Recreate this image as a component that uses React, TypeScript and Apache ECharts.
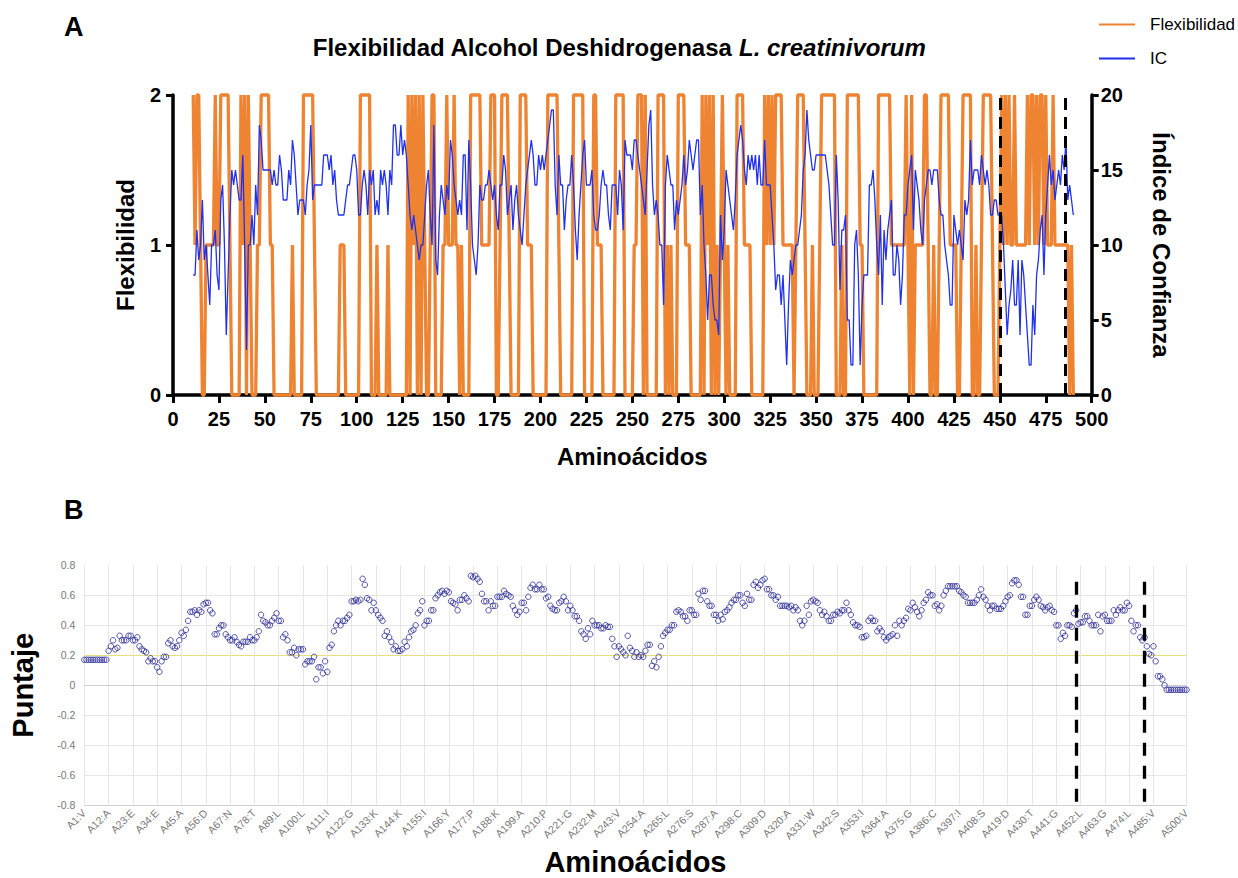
import React, { useEffect, useRef } from "react";
import * as echarts from "echarts";

const FONT = "'Liberation Sans', Arial, Helvetica, sans-serif";

// ---------- Panel A: Flexibilidad / IC (residues 11..490) ----------
const firstResidueA = 11;

const flexibilidad = [
  2,1,2,2,1,0,0,1,1,1,
  1,1,2,1,1,2,2,2,2,2,
  1,0,0,0,0,0,2,1,2,0,
  2,1,0,0,0,1,1,2,2,2,
  2,2,1,1,0,0,0,0,0,0,
  0,0,0,0,1,0,0,0,0,0,
  2,2,2,2,2,2,1,0,0,0,
  0,0,0,0,0,0,0,0,0,0,
  1,1,1,0,0,0,0,0,0,0,
  0,2,2,2,2,2,2,0,0,0,
  1,0,0,0,0,0,1,0,0,0,
  0,0,0,0,0,0,0,2,0,2,
  1,2,0,2,0,2,1,0,0,1,
  2,2,0,0,0,0,1,1,2,1,
  1,1,2,1,1,0,1,0,0,0,
  0,2,2,2,2,2,2,1,1,1,
  1,1,2,2,2,0,0,1,2,2,
  2,2,1,0,0,0,0,0,2,2,
  2,2,1,1,1,0,0,0,0,0,
  0,0,0,2,2,2,2,2,2,1,
  0,0,0,0,0,0,0,2,2,2,
  2,2,2,0,0,0,0,0,2,2,
  1,1,1,0,0,0,0,0,0,0,
  2,2,2,2,2,0,0,0,0,0,
  1,1,2,2,2,0,2,0,0,0,
  0,0,0,2,2,2,2,0,1,0,
  1,0,0,0,2,2,2,2,1,1,
  1,0,0,0,0,0,0,2,0,2,
  1,2,0,2,0,1,0,1,2,1,
  0,1,0,0,0,0,2,2,2,2,
  1,1,1,1,0,0,0,0,0,0,
  0,2,1,2,1,2,1,2,2,2,
  2,1,1,1,1,1,1,0,1,2,
  2,2,2,1,0,0,0,1,0,0,
  0,1,2,2,2,2,2,2,2,2,
  0,0,0,1,0,0,2,2,2,2,
  2,2,2,1,1,0,0,0,0,0,
  0,0,0,2,2,2,2,2,2,2,
  1,1,1,1,1,1,1,1,2,1,
  0,2,0,1,1,1,1,1,2,2,
  1,0,0,1,0,0,1,2,2,2,
  2,2,1,1,1,1,0,0,1,2,
  2,2,2,2,0,0,1,0,0,1,
  2,2,2,2,2,1,0,0,0,1,
  2,1,2,1,2,1,1,2,1,1,
  1,1,1,1,2,1,2,2,1,2,
  1,2,2,1,2,1,1,1,2,1,
  1,1,1,1,1,1,1,0,1,0,
];

const indiceConfianza = [
  8,8,11,9,10,13,9,10,8,6,
  10,10,11,8,7,13,14,10,4,8,
  12,15,14,15,14,13,13,16,10,3,
  10,10,12,10,14,12,18,17,15,15,
  15,15,15,14,15,14,14,16,15,13,
  13,13,15,14,17,16,14,12,13,13,
  13,12,14,15,18,13,14,14,14,14,
  14,16,16,16,15,16,14,15,13,12,
  12,12,12,13,14,14,15,16,16,15,
  12,12,14,15,14,12,15,14,15,12,
  13,12,15,14,15,14,12,15,14,18,
  18,16,16,18,16,17,16,14,12,11,
  12,11,10,9,10,10,12,14,15,12,
  10,18,9,8,12,14,13,12,14,13,
  17,16,14,13,12,13,12,16,16,11,
  17,14,10,9,8,10,14,13,13,14,
  14,15,14,13,14,12,11,14,14,16,
  15,12,13,14,11,13,14,12,11,10,
  12,14,15,16,17,16,14,14,16,15,
  16,15,16,17,18,19,19,14,12,16,
  14,14,11,13,14,14,16,14,11,9,
  12,14,16,17,14,14,14,15,12,11,
  11,12,14,15,14,14,12,11,14,14,
  14,12,15,14,11,17,16,16,16,15,
  17,17,16,15,14,13,12,15,18,19,
  14,12,13,12,10,10,6,14,16,15,
  14,14,11,13,12,13,14,16,14,15,
  17,16,15,16,17,17,12,14,10,8,
  5,8,8,6,5,5,4,12,9,11,
  15,14,13,12,11,13,16,17,18,17,
  15,14,16,15,16,15,16,14,16,14,
  14,17,14,14,14,12,10,7,8,8,
  6,8,5,2,6,9,8,9,10,10,
  11,12,15,16,19,17,16,15,15,16,
  16,16,16,16,16,15,14,12,10,10,
  16,13,7,11,11,12,5,5,2,2,
  10,11,8,2,6,8,8,8,14,14,
  15,13,10,8,12,6,11,9,11,12,
  13,8,8,10,9,6,8,12,12,14,
  15,16,11,15,14,13,11,10,13,14,
  15,15,14,15,15,15,13,12,12,10,
  9,8,6,6,12,11,10,11,10,9,
  13,12,13,17,14,15,15,15,14,16,
  15,14,15,14,12,12,13,13,12,12,
  12,10,7,4,6,7,9,6,6,9,
  4,9,8,6,4,2,2,6,4,8,
  9,11,12,8,12,14,16,14,15,13,
  14,15,14,16,15,17,13,14,13,12,
];

const regionLimitsA = [450.5, 485.6];

// ---------- Panel B: Puntaje per residue (A1..A500) ----------
const puntaje = [
  0.17,0.17,0.17,0.17,0.17,0.17,0.17,0.17,0.17,0.17,0.17,
  0.23,0.26,0.30,0.24,0.25,0.33,0.30,0.30,0.30,0.33,
  0.33,0.30,0.30,0.32,0.26,0.24,0.23,0.22,0.16,0.18,
  0.16,0.16,0.12,0.09,0.16,0.19,0.19,0.28,0.30,0.26,
  0.25,0.26,0.30,0.35,0.33,0.37,0.43,0.49,0.49,0.50,
  0.47,0.50,0.49,0.54,0.55,0.55,0.50,0.48,0.34,0.34,
  0.38,0.40,0.40,0.34,0.32,0.30,0.30,0.32,0.29,0.27,
  0.26,0.29,0.29,0.29,0.32,0.30,0.30,0.32,0.36,0.47,
  0.43,0.42,0.40,0.40,0.43,0.45,0.48,0.43,0.43,0.32,
  0.34,0.30,0.22,0.22,0.25,0.20,0.24,0.24,0.24,0.14,
  0.16,0.16,0.16,0.19,0.04,0.12,0.12,0.08,0.16,0.09,
  0.25,0.27,0.36,0.40,0.43,0.40,0.43,0.43,0.45,0.47,
  0.56,0.56,0.57,0.56,0.57,0.71,0.67,0.58,0.57,0.50,
  0.55,0.50,0.47,0.45,0.43,0.33,0.36,0.32,0.29,0.24,
  0.26,0.23,0.23,0.24,0.29,0.26,0.32,0.36,0.37,0.40,
  0.48,0.50,0.56,0.40,0.43,0.43,0.50,0.50,0.58,0.60,
  0.62,0.63,0.61,0.63,0.62,0.56,0.55,0.54,0.50,
  0.57,0.57,0.60,0.58,0.56,0.73,0.72,0.73,0.71,0.69,
  0.61,0.56,0.56,0.50,0.56,0.53,0.53,0.59,0.59,0.59,
  0.63,0.61,0.60,0.59,0.53,0.50,0.47,0.49,0.55,0.55,
  0.50,0.59,0.65,0.67,0.64,0.64,0.67,0.64,0.64,0.58,
  0.59,0.53,0.51,0.50,0.50,0.55,0.56,0.59,0.56,0.50,
  0.53,0.50,0.46,0.46,0.43,0.36,0.34,0.31,0.38,0.34,
  0.43,0.40,0.40,0.40,0.38,0.38,0.40,0.39,0.39,0.31,
  0.26,0.19,0.26,0.24,0.22,0.20,0.33,0.25,0.23,0.19,
  0.22,0.19,0.20,0.19,0.23,0.27,0.27,0.13,0.16,0.12,
  0.19,0.26,0.33,0.35,0.37,0.37,0.40,0.40,0.49,0.50,
  0.49,0.46,0.46,0.43,0.50,0.50,0.47,0.47,0.61,0.57,
  0.63,0.63,0.56,0.53,0.53,0.47,0.47,0.43,0.47,0.44,
  0.49,0.50,0.52,0.55,0.57,0.57,0.60,0.60,0.55,0.53,
  0.61,0.57,0.57,0.67,0.69,0.65,0.67,0.70,0.71,0.64,
  0.64,0.60,0.60,0.57,0.59,0.53,0.53,0.53,0.53,0.52,
  0.53,0.50,0.52,0.50,0.43,0.40,0.43,0.53,0.47,0.56,
  0.57,0.56,0.55,0.50,0.47,0.49,0.46,0.43,0.43,0.47,
  0.47,0.49,
  0.48,0.50,0.50,0.55,0.50,0.47,0.42,0.40,0.40,0.39,
  0.32,0.32,0.33,0.43,0.45,0.43,0.43,0.36,0.38,0.36,
  0.32,0.30,0.32,0.33,0.34,0.40,0.33,0.43,0.40,0.43,
  0.45,0.51,0.50,0.55,0.52,0.49,0.46,0.50,0.55,0.57,
  0.62,0.60,0.60,0.53,0.54,0.50,0.53,0.60,0.63,0.66,
  0.66,0.66,0.66,0.66,0.63,0.62,0.60,0.59,0.55,0.55,
  0.55,0.55,0.57,0.60,0.64,0.59,0.57,0.53,0.50,0.53,
  0.53,0.51,0.51,0.51,0.53,0.56,0.59,0.60,0.68,0.70,
  0.70,0.67,0.59,0.59,0.47,0.47,0.53,0.53,0.57,0.59,
  0.57,0.53,0.52,0.50,0.52,0.53,0.50,0.49,0.40,0.40,
  0.31,0.35,0.33,0.40,0.40,0.39,0.48,0.50,0.41,0.42,
  0.42,0.46,0.46,0.43,0.40,0.40,0.40,0.47,0.36,0.46,
  0.47,0.43,0.43,0.43,0.50,0.47,0.50,0.52,0.50,0.50,
  0.55,0.53,0.43,0.36,0.40,0.40,0.32,0.30,0.32,0.26,
  0.21,0.20,0.26,0.16,0.06,0.06,0.04,0.00,
  -0.03,-0.03,-0.03,-0.03,-0.03,-0.03,-0.03,-0.03,-0.03,-0.03,
];

const labeledResidues: Record<number, string> = {
  1: "V", 12: "A", 23: "E", 34: "E", 45: "A", 56: "D", 67: "N", 78: "T", 89: "L",
  100: "L", 111: "I", 122: "G", 133: "K", 144: "K", 155: "I", 166: "Y", 177: "P",
  188: "K", 199: "A", 210: "P", 221: "G", 232: "M", 243: "V", 254: "A", 265: "L",
  276: "S", 287: "A", 298: "C", 309: "D", 320: "A", 331: "W", 342: "S", 353: "I",
  364: "A", 375: "G", 386: "C", 397: "I", 408: "S", 419: "D", 430: "T", 441: "G",
  452: "L", 463: "G", 474: "L", 485: "V", 500: "V",
};

const regionLimitsB = [450, 481];
const regionTopB = 0.69;

export default function App() {
  const ref = useRef<HTMLDivElement>(null);

  useEffect(() => {
    const chart = echarts.init(ref.current!, null, { renderer: "svg" });

    const categories = puntaje.map((_, i) => {
      const n = i + 1;
      const r = labeledResidues[n];
      return r ? `A${n}:${r}` : `A${n}`;
    });
    const catOf = (n: number) => categories[n - 1];
    const showCat = (i: number) => labeledResidues[i + 1] !== undefined;

    const flexData = flexibilidad.map((v, i) => [firstResidueA + i, v]);
    const icData = indiceConfianza.map((v, i) => [firstResidueA + i, v]);

    const boldAxisLabel = { fontSize: 20, fontWeight: "bold", color: "#000", fontFamily: FONT };
    const boldName = { fontSize: 24, fontWeight: "bold", color: "#000", fontFamily: FONT };
    const thickLine = { show: true, lineStyle: { color: "#000", width: 3.5 } };
    const thickTick = { show: true, length: 8, lineStyle: { color: "#000", width: 3 } };

    const yColorsB = ["#cfcfcf", "#e6e6e6", "#e6e6e6", "#e6e6e6", "#bdbdbd", "#e7e07a", "#e6e6e6", "#e6e6e6", "rgba(0,0,0,0)"];

    chart.setOption({
      animation: false,
      textStyle: { fontFamily: FONT },
      title: {
        text: "{n|Flexibilidad Alcohol Deshidrogenasa }{i|L. creatinivorum}",
        left: "center",
        top: 30,
        textStyle: {
          rich: {
            n: { fontSize: 24, fontWeight: "bold", color: "#000", fontFamily: FONT },
            i: { fontSize: 24, fontWeight: "bold", fontStyle: "italic", color: "#000", fontFamily: FONT },
          },
        },
      },
      legend: {
        data: [
          { name: "Flexibilidad", itemStyle: { opacity: 0 } },
          { name: "IC", itemStyle: { opacity: 0 } },
        ],
        orient: "vertical",
        left: 1093,
        top: 11,
        itemWidth: 36,
        itemHeight: 14,
        itemGap: 17,
        itemStyle: { opacity: 0 },
        textStyle: { fontSize: 17, color: "#000", fontFamily: FONT, padding: [0, 0, 0, 10] },
      },
      graphic: [
        { type: "text", left: 64, top: 13, style: { text: "A", font: `bold 27px ${FONT}`, fill: "#000" } },
        { type: "text", left: 64, top: 496, style: { text: "B", font: `bold 27px ${FONT}`, fill: "#000" } },
      ],
      grid: [
        { left: 173, top: 95, width: 918.7, height: 300 },
        { left: 84.3, top: 565.3, width: 1102.3, height: 240 },
      ],
      xAxis: [
        {
          type: "value",
          gridIndex: 0,
          min: 0,
          max: 500,
          interval: 25,
          axisLine: thickLine,
          axisTick: thickTick,
          axisLabel: { ...boldAxisLabel, margin: 14 },
          splitLine: { show: false },
          name: "Aminoácidos",
          nameLocation: "middle",
          nameGap: 49,
          nameTextStyle: boldName,
        },
        {
          type: "category",
          gridIndex: 1,
          data: categories,
          boundaryGap: false,
          axisLine: { show: true, lineStyle: { color: "#cfcfcf", width: 1 } },
          axisTick: { show: false },
          axisLabel: {
            interval: (i: number) => showCat(i),
            showMaxLabel: true,
            rotate: 45,
            color: "#777",
            fontSize: 10.5,
            margin: 6,
            fontFamily: FONT,
          },
          splitLine: { show: true, interval: (i: number) => showCat(i), lineStyle: { color: "#e6e6e6", width: 1 } },
          name: "Aminoácidos",
          nameLocation: "middle",
          nameGap: 42,
          nameTextStyle: { fontSize: 29, fontWeight: "bold", color: "#000", fontFamily: FONT },
        },
      ],
      yAxis: [
        {
          type: "value",
          gridIndex: 0,
          min: 0,
          max: 2,
          interval: 1,
          position: "left",
          axisLine: thickLine,
          axisTick: { ...thickTick, length: 7 },
          axisLabel: { ...boldAxisLabel, margin: 12 },
          splitLine: { show: false },
          name: "Flexibilidad",
          nameLocation: "middle",
          nameRotate: 90,
          nameGap: 36,
          nameTextStyle: boldName,
        },
        {
          type: "value",
          gridIndex: 0,
          min: 0,
          max: 20,
          interval: 5,
          position: "right",
          axisLine: thickLine,
          axisTick: { ...thickTick, length: 7 },
          axisLabel: { ...boldAxisLabel, margin: 9 },
          splitLine: { show: false },
          name: "Índice de Confianza",
          nameLocation: "middle",
          nameRotate: -90,
          nameGap: 58,
          nameTextStyle: boldName,
        },
        {
          type: "value",
          gridIndex: 1,
          min: -0.8,
          max: 0.8,
          interval: 0.2,
          axisLine: { show: false },
          axisTick: { show: false },
          axisLabel: { color: "#777", fontSize: 10.5, margin: 9, fontFamily: FONT },
          splitLine: { show: true, lineStyle: { color: yColorsB, width: 1 } },
          name: "Puntaje",
          nameLocation: "middle",
          nameRotate: 90,
          nameGap: 47,
          nameTextStyle: { fontSize: 29, fontWeight: "bold", color: "#000", fontFamily: FONT },
        },
      ],
      series: [
        {
          name: "Flexibilidad",
          type: "line",
          xAxisIndex: 0,
          yAxisIndex: 0,
          data: flexData,
          symbol: "none",
          showSymbol: false,
          clip: false,
          lineStyle: { color: "#EE8432", width: 3.3, join: "bevel" },
          itemStyle: { color: "#EE8432" },
          z: 2,
        },
        {
          name: "IC",
          type: "line",
          xAxisIndex: 0,
          yAxisIndex: 1,
          data: icData,
          symbol: "none",
          showSymbol: false,
          lineStyle: { color: "#1F30EE", width: 1.3 },
          itemStyle: { color: "#1F30EE" },
          z: 3,
          markLine: {
            silent: true,
            symbol: "none",
            label: { show: false },
            lineStyle: { color: "#000", width: 3, type: [12, 7] },
            data: regionLimitsA.map((x) => ({ xAxis: x })),
          },
        },
        {
          name: "Puntaje",
          type: "scatter",
          xAxisIndex: 1,
          yAxisIndex: 2,
          data: puntaje,
          symbol: "circle",
          symbolSize: 5.5,
          itemStyle: { color: "rgba(255,255,255,0)", borderColor: "#2a2a96", borderWidth: 1 },
          markLine: {
            silent: true,
            symbol: "none",
            label: { show: false },
            lineStyle: { color: "#000", width: 3.3, type: [13, 10] },
            data: regionLimitsB.map((n) => [
              { coord: [catOf(n), regionTopB] },
              { coord: [catOf(n), -0.8] },
            ]),
          },
        },
      ],
    });

    return () => chart.dispose();
  }, []);

  return (
    <div
      ref={ref}
      style={{ position: "absolute", left: 0, top: 0, width: 1238, height: 878, background: "#fff" }}
    />
  );
}
